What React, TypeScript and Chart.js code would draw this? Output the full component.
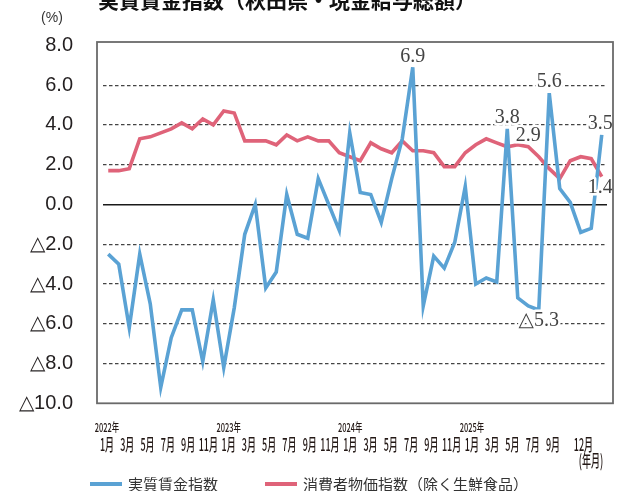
import React, { useEffect, useRef } from "react";
import { Chart, registerables } from "chart.js";

Chart.register(...registerables);

// ---- data ----
const categories = [
  "2022-01", "2022-02", "2022-03", "2022-04", "2022-05", "2022-06", "2022-07", "2022-08", "2022-09", "2022-10", "2022-11", "2022-12",
  "2023-01", "2023-02", "2023-03", "2023-04", "2023-05", "2023-06", "2023-07", "2023-08", "2023-09", "2023-10", "2023-11", "2023-12",
  "2024-01", "2024-02", "2024-03", "2024-04", "2024-05", "2024-06", "2024-07", "2024-08", "2024-09", "2024-10", "2024-11", "2024-12",
  "2025-01", "2025-02", "2025-03", "2025-04", "2025-05", "2025-06", "2025-07", "2025-08", "2025-09", "2025-10", "2025-11", "2025-12",
];

const realWage = [
  -2.5, -3.0, -6.2, -2.5, -5.0, -9.2, -6.7, -5.3, -5.3, -7.9, -4.8, -8.2,
  -5.2, -1.5, 0.0, -4.2, -3.4, 0.5, -1.5, -1.7, 1.3, 0.0, -1.3, 3.6,
  0.6, 0.5, -0.9, 1.3, 3.3, 6.9, -5.1, -2.6, -3.2, -1.9, 0.9, -4.0,
  -3.7, -3.9, 3.8, -4.7, -5.1, -5.3, 5.6, 0.8, 0.1, -1.4, -1.2, 3.5,
];

const cpi = [
  1.7, 1.7, 1.8, 3.3, 3.4, 3.6, 3.8, 4.1, 3.8, 4.3, 4.0, 4.7,
  4.6, 3.2, 3.2, 3.2, 3.0, 3.5, 3.2, 3.4, 3.2, 3.2, 2.6, 2.4,
  2.2, 3.1, 2.8, 2.6, 3.2, 2.7, 2.7, 2.6, 1.9, 1.9, 2.6, 3.0,
  3.3, 3.1, 2.9, 3.0, 2.9, 2.4, 1.8, 1.3, 2.2, 2.4, 2.3, 1.4,
];

const seriesNames = ["実質賃金指数", "消費者物価指数（除く生鮮食品）"];

const yTicks = [-10, -8, -6, -4, -2, 0, 2, 4, 6, 8];

const monthTickLabels = ["1月", "3月", "5月", "7月", "9月", "11月", "1月", "3月", "5月", "7月", "9月", "11月",
  "1月", "3月", "5月", "7月", "9月", "11月", "1月", "3月", "5月", "7月", "9月", "12月"];
const monthTickIdx = [0, 2, 4, 6, 8, 10, 12, 14, 16, 18, 20, 22, 24, 26, 28, 30, 32, 34, 36, 38, 40, 42, 44, 47];
const yearTickLabels = ["2022年", "2023年", "2024年", "2025年"];
const yearTickIdx = [0, 12, 24, 36];

// annotated points: [datasetIndex, categoryIndex, direction]
const annotated: [number, number, number][] = [
  [0, 29, -1],
  [0, 38, -1],
  [1, 40, -1],
  [0, 42, -1],
  [0, 47, -1],
  [1, 47, 1],
  [0, 41, 1],
];

const titleText = "実質賃金指数（秋田県・現金給与総額）";

const BLUE = "#5aa2d4";
const RED = "#df6379";

const fmt = (v: number) => (v < 0 ? "△" + Math.abs(v).toFixed(1) : v.toFixed(1));

const decorPlugin = {
  id: "decor",
  afterDatasetsDraw(chart: any) {
    const ctx = chart.ctx;
    ctx.save();
    ctx.font = '20px "Liberation Serif", "DejaVu Serif", serif';
    ctx.textAlign = "center";
    ctx.textBaseline = "middle";
    annotated.forEach(([ds, idx, dir]) => {
      const el = chart.getDatasetMeta(ds).data[idx];
      const val = chart.data.datasets[ds].data[idx];
      const text = fmt(val);
      const x = el.x - (idx === 47 ? 1.5 : 0);
      const y = el.y + dir * 11;
      ctx.lineWidth = 5;
      ctx.strokeStyle = "#ffffff";
      ctx.lineJoin = "round";
      ctx.strokeText(text, x, y);
      ctx.fillStyle = "#444444";
      ctx.fillText(text, x, y);
    });
    ctx.restore();
  },
  afterDraw(chart: any) {
    const ctx = chart.ctx;
    const a = chart.chartArea;
    ctx.save();
    // box
    ctx.strokeStyle = "#6a6a6a";
    ctx.lineWidth = 1.8;
    ctx.strokeRect(a.left - 6, a.top, a.right - a.left + 12, a.bottom - a.top);

    // title (cut at the top)
    ctx.fillStyle = "#111111";
    ctx.font = 'bold 21px "Noto Sans CJK JP", sans-serif';
    ctx.textAlign = "center";
    ctx.textBaseline = "alphabetic";
    ctx.fillText(titleText, 287, 8);

    // unit
    ctx.fillStyle = "#333333";
    ctx.font = '14px "Liberation Sans", sans-serif';
    ctx.textBaseline = "middle";
    ctx.fillText("(%)", 52, 18);

    // x labels
    const xl = chart.scales.xl;
    ctx.fillStyle = "#231815";
    ctx.font = '500 12px "Noto Sans CJK JP", sans-serif';
    yearTickIdx.forEach((idx, k) => {
      const x = xl.getPixelForValue(idx);
      ctx.save();
      ctx.translate(x, a.bottom + 24);
      ctx.scale(0.62, 1);
      ctx.fillText(yearTickLabels[k], 0, 0);
      ctx.restore();
    });
    ctx.font = '500 17px "Noto Sans CJK JP", sans-serif';
    monthTickIdx.forEach((idx, k) => {
      const x = xl.getPixelForValue(idx);
      ctx.save();
      ctx.translate(x, a.bottom + 41);
      ctx.scale(0.53, 1);
      ctx.fillText(monthTickLabels[k], 0, 0);
      ctx.restore();
    });
    ctx.save();
    ctx.translate(591, a.bottom + 57);
    ctx.scale(0.53, 1);
    ctx.fillText("(年月)", 0, 0);
    ctx.restore();

    // legend
    const items = [
      { color: BLUE, text: chart.data.datasets[0].label, x: 90 },
      { color: RED, text: chart.data.datasets[1].label, x: 265 },
    ];
    ctx.font = '15px "Noto Sans CJK JP", sans-serif';
    ctx.textAlign = "left";
    items.forEach((it) => {
      ctx.strokeStyle = it.color;
      ctx.lineWidth = 4;
      ctx.beginPath();
      ctx.moveTo(it.x, 484);
      ctx.lineTo(it.x + 32, 484);
      ctx.stroke();
      ctx.fillStyle = "#333333";
      ctx.fillText(it.text, it.x + 38, 484);
    });
    ctx.restore();
  },
};

export default function App() {
  const ref = useRef<HTMLCanvasElement | null>(null);

  useEffect(() => {
    if (!ref.current) return;
    const chart = new Chart(ref.current, {
      type: "line",
      data: {
        labels: categories,
        datasets: [
          {
            label: seriesNames[0],
            data: realWage,
            borderColor: BLUE,
            backgroundColor: BLUE,
            borderWidth: 3.6,
            pointRadius: 0,
            tension: 0,
            xAxisID: "x",
          },
          {
            label: seriesNames[1],
            data: cpi,
            borderColor: RED,
            backgroundColor: RED,
            borderWidth: 3.6,
            pointRadius: 0,
            tension: 0,
            xAxisID: "x",
          },
        ],
      },
      options: {
        responsive: false,
        animation: false,
        devicePixelRatio: 1,
        layout: { padding: { top: 38, bottom: 87.7, left: 0, right: 17 } },
        plugins: {
          legend: { display: false },
          tooltip: { enabled: false },
          title: { display: false },
        },
        scales: {
          x: {
            type: "category",
            offset: true,
            display: false,
          },
          xl: {
            type: "linear",
            display: false,
            min: -0.395,
            max: 49.33,
          },
          y: {
            type: "linear",
            min: -10,
            max: 8.17,
            afterBuildTicks: (scale: any) => {
              scale.ticks = yTicks.map((v) => ({ value: v }));
            },
            afterFit: (scale: any) => {
              scale.width = 103;
            },
            grid: {
              drawTicks: false,
              color: (c: any) => {
                const v = c.tick ? c.tick.value : null;
                if (v === 8 || v === -10) return "rgba(0,0,0,0)";
                return v === 0 ? "#1a1a1a" : "#444444";
              },
              lineWidth: (c: any) => (c.tick && c.tick.value === 0 ? 1.5 : 1.2),
            },
            border: {
              display: false,
              dash: (c: any) => (c.tick && c.tick.value !== 0 ? [3.5, 2.5] : []),
            },
            ticks: {
              padding: 30,
              color: "#231f20",
              font: { family: '"Liberation Sans", Arial, sans-serif', size: 20 },
              callback: (v: any) => fmt(Number(v)),
            },
          },
        },
      },
      plugins: [decorPlugin],
    } as any);
    return () => chart.destroy();
  }, []);

  return (
    <div style={{ position: "fixed", left: 0, top: 0, width: 624, height: 491, background: "#fff" }}>
      <canvas ref={ref} width={624} height={491} style={{ display: "block" }} />
    </div>
  );
}
